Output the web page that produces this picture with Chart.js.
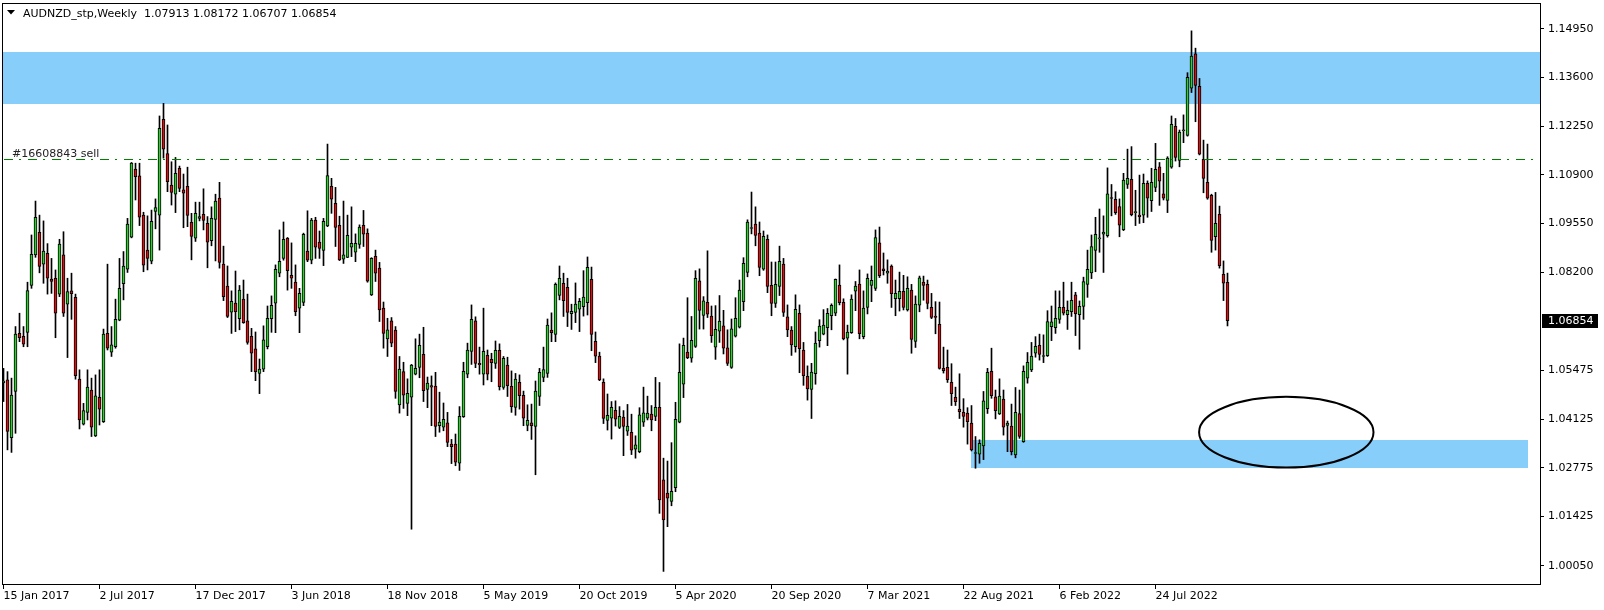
<!DOCTYPE html>
<html><head><meta charset="utf-8">
<script src="https://cdn.jsdelivr.net/npm/chart.js@4.4.1/dist/chart.umd.min.js"></script>
<style>html,body{margin:0;padding:0;background:#fff;overflow:hidden}canvas{display:block}</style>
</head><body>
<canvas id="c" width="1604" height="610"></canvas>
<script>
// ---- weekly candles (bar index 0 = week of 15 Jan 2017) ----
const opens = [1.0513,1.0521,1.0361,1.0489,1.0650,1.0642,1.0653,1.0783,1.0868,1.0930,1.0842,1.0872,1.0801,1.0803,1.0759,1.0868,1.0731,1.0768,1.0750,1.0523,
1.0398,1.0431,1.0493,1.0366,1.0473,1.0405,1.0650,1.0598,1.0613,1.0687,1.0788,1.0828,1.0917,1.1106,1.1087,1.0978,1.0881,1.0850,1.0988,1.0978,
1.1244,1.1149,1.1061,1.1036,1.1108,1.1048,1.1058,1.0958,1.0914,1.0969,1.0980,1.0955,1.0907,1.0966,1.1025,1.0842,1.0781,1.0709,1.0734,1.0691,
1.0745,1.0685,1.0642,1.0607,1.0539,1.0551,1.0613,1.0691,1.0734,1.0817,1.0858,1.0914,1.0811,1.0792,1.0720,1.0736,1.0878,1.0853,1.0964,1.0903,
1.0880,1.0948,1.1058,1.1011,1.0950,1.0856,1.0861,1.0889,1.0875,1.0897,1.0950,1.0928,1.0757,1.0864,1.0831,1.0720,1.0635,1.0685,1.0659,1.0452,
1.0544,1.0456,1.0473,1.0537,1.0556,1.0592,1.0495,1.0505,1.0504,1.0394,1.0390,1.0402,1.0343,1.0343,1.0290,1.0419,1.0537,1.0600,1.0685,1.0567,
1.0537,1.0589,1.0578,1.0567,1.0603,1.0500,1.0562,1.0503,1.0445,1.0514,1.0478,1.0395,1.0402,1.0392,1.0475,1.0528,1.0539,1.0659,1.0647,1.0755,
1.0789,1.0778,1.0705,1.0708,1.0717,1.0724,1.0735,1.0800,1.0628,1.0587,1.0514,1.0409,1.0415,1.0437,1.0389,1.0418,1.0379,1.0376,1.0329,1.0322,
1.0404,1.0415,1.0426,1.0420,1.0445,1.0244,1.0207,1.0184,1.0222,1.0404,1.0509,1.0598,1.0581,1.0614,1.0796,1.0700,1.0736,1.0698,1.0612,1.0656,
1.0671,1.0610,1.0556,1.0642,1.0667,1.0738,1.0819,1.0941,1.0953,1.0928,1.0828,1.0911,1.0783,1.0733,1.0780,1.0842,1.0696,1.0659,1.0613,1.0706,
1.0604,1.0531,1.0495,1.0538,1.0630,1.0648,1.0666,1.0699,1.0706,1.0784,1.0736,1.0637,1.0652,1.0767,1.0787,1.0641,1.0722,1.0783,1.0775,1.0901,
1.0829,1.0817,1.0837,1.0746,1.0746,1.0767,1.0715,1.0770,1.0628,1.0728,1.0792,1.0786,1.0722,1.0698,1.0675,1.0553,1.0556,1.0514,1.0473,1.0440,
1.0431,1.0429,1.0401,1.0317,1.0315,1.0338,1.0441,1.0545,1.0474,1.0427,1.0468,1.0395,1.0393,1.0313,1.0428,1.0350,1.0526,1.0549,1.0595,1.0617,
1.0586,1.0588,1.0669,1.0666,1.0689,1.0722,1.0702,1.0710,1.0757,1.0702,1.0725,1.0786,1.0818,1.0880,1.0912,1.0925,1.0921,1.1027,1.1022,1.1002,
1.0938,1.1063,1.1077,1.0985,1.0978,1.0978,1.1066,1.1018,1.1055,1.1112,1.1037,1.1019,1.1111,1.1224,1.1130,1.1212,1.1199,1.1330,1.1425,1.1335,
1.1133,1.1069,1.1033,1.0918,1.0980,1.0814,1.07913];
const highs = [1.0553,1.0544,1.0526,1.0669,1.0706,1.0669,1.0792,1.0923,1.1017,1.0978,1.0962,1.0899,1.0858,1.0826,1.0911,1.0932,1.0803,1.0817,1.0759,1.0549,
1.0456,1.0549,1.0526,1.0535,1.0549,1.0662,1.0842,1.0669,1.0745,1.0858,1.0877,1.0969,1.1124,1.1122,1.1122,1.0986,1.0976,1.0992,1.1023,1.1253,
1.1288,1.1228,1.1126,1.1138,1.1114,1.1092,1.1111,1.0983,1.1014,1.1014,1.1051,1.0974,1.1001,1.1036,1.1069,1.0892,1.0837,1.0768,1.0823,1.0783,
1.0798,1.0759,1.0664,1.0654,1.0579,1.0671,1.0726,1.0754,1.0840,1.0937,1.0959,1.0916,1.0901,1.0840,1.0775,1.0928,1.0990,1.0969,1.0972,1.0934,
1.0969,1.1175,1.1080,1.1055,1.0975,1.1017,1.0978,1.1001,1.0926,1.0951,1.0991,1.0940,1.0860,1.0881,1.0847,1.0737,1.0692,1.0694,1.0669,1.0586,
1.0570,1.0524,1.0564,1.0635,1.0648,1.0667,1.0529,1.0532,1.0542,1.0487,1.0457,1.0431,1.0356,1.0371,1.0447,1.0570,1.0623,1.0729,1.0696,1.0612,
1.0720,1.0604,1.0595,1.0629,1.0621,1.0586,1.0584,1.0546,1.0539,1.0535,1.0490,1.0452,1.0454,1.0518,1.0553,1.0612,1.0690,1.0707,1.0790,1.0837,
1.0817,1.0803,1.0731,1.0790,1.0747,1.0824,1.0862,1.0834,1.0654,1.0598,1.0524,1.0482,1.0461,1.0463,1.0447,1.0436,1.0453,1.0426,1.0366,1.0444,
1.0501,1.0476,1.0450,1.0528,1.0514,1.0304,1.0296,1.0347,1.0459,1.0621,1.0637,1.0749,1.0697,1.0824,1.0829,1.0752,1.0879,1.0726,1.0727,1.0755,
1.0714,1.0660,1.0690,1.0749,1.0798,1.0860,1.0965,1.1042,1.1001,1.0959,1.0934,1.0923,1.0848,1.0848,1.0892,1.0858,1.0729,1.0669,1.0757,1.0729,
1.0625,1.0560,1.0567,1.0654,1.0688,1.0716,1.0719,1.0732,1.0801,1.0840,1.0746,1.0673,1.0757,1.0794,1.0826,1.0768,1.0815,1.0837,1.0937,1.0945,
1.0873,1.0854,1.0840,1.0798,1.0820,1.0811,1.0807,1.0786,1.0754,1.0809,1.0809,1.0798,1.0761,1.0738,1.0737,1.0612,1.0604,1.0566,1.0501,1.0538,
1.0469,1.0444,1.0450,1.0364,1.0355,1.0489,1.0553,1.0609,1.0493,1.0524,1.0493,1.0407,1.0454,1.0500,1.0493,1.0560,1.0597,1.0625,1.0641,1.0648,
1.0646,1.0713,1.0726,1.0768,1.0768,1.0792,1.0740,1.0792,1.0764,1.0740,1.0806,1.0881,1.0923,1.0972,1.0995,1.0976,1.1109,1.1063,1.1043,1.1023,
1.1094,1.1161,1.1168,1.1047,1.1089,1.1092,1.1073,1.1108,1.1177,1.1124,1.1094,1.1140,1.1253,1.1246,1.1214,1.1256,1.1373,1.1489,1.1441,1.1357,
1.1186,1.1175,1.1036,1.1041,1.1003,1.0851,1.08172];
const lows = [1.0461,1.0327,1.0320,1.0373,1.0627,1.0613,1.0613,1.0775,1.0861,1.0818,1.0789,1.0759,1.0761,1.0638,1.0752,1.0697,1.0583,1.0689,1.0523,1.0385,
1.0396,1.0410,1.0364,1.0364,1.0396,1.0403,1.0604,1.0586,1.0609,1.0685,1.0743,1.0819,1.0915,1.1020,1.0949,1.0821,1.0826,1.0843,1.0940,1.0881,
1.1136,1.1043,1.1006,1.0985,1.1043,1.0943,1.0946,1.0854,1.0905,1.0962,1.0937,1.0832,1.0893,1.0851,1.0831,1.0741,1.0694,1.0650,1.0655,1.0660,
1.0678,1.0620,1.0544,1.0519,1.0483,1.0544,1.0607,1.0653,1.0652,1.0807,1.0853,1.0770,1.0775,1.0699,1.0652,1.0727,1.0849,1.0843,1.0858,1.0858,
1.0838,1.0946,1.0983,1.0891,1.0852,1.0844,1.0860,1.0863,1.0849,1.0886,1.0891,1.0792,1.0755,1.0794,1.0683,1.0609,1.0586,1.0613,1.0470,1.0429,
1.0442,1.0422,1.0107,1.0535,1.0527,1.0461,1.0444,1.0394,1.0364,1.0376,1.0380,1.0336,1.0289,1.0283,1.0270,1.0417,1.0527,1.0564,1.0555,1.0537,
1.0507,1.0521,1.0516,1.0553,1.0493,1.0495,1.0475,1.0431,1.0423,1.0440,1.0394,1.0380,1.0356,1.0258,1.0450,1.0516,1.0528,1.0627,1.0627,1.0743,
1.0697,1.0669,1.0661,1.0680,1.0655,1.0698,1.0701,1.0602,1.0569,1.0519,1.0400,1.0382,1.0357,1.0393,1.0386,1.0311,1.0367,1.0314,1.0304,1.0319,
1.0392,1.0410,1.0380,1.0408,1.0151,0.9990,1.0114,1.0172,1.0211,1.0402,1.0472,1.0580,1.0570,1.0611,1.0662,1.0662,1.0694,1.0625,1.0578,1.0625,
1.0593,1.0561,1.0553,1.0640,1.0665,1.0713,1.0807,1.0926,1.0893,1.0810,1.0825,1.0763,1.0699,1.0722,1.0755,1.0697,1.0641,1.0589,1.0598,1.0541,
1.0506,1.0465,1.0414,1.0509,1.0612,1.0646,1.0616,1.0660,1.0699,1.0729,1.0632,1.0537,1.0650,1.0713,1.0635,1.0635,1.0704,1.0738,1.0769,1.0805,
1.0812,1.0789,1.0722,1.0699,1.0712,1.0715,1.0712,1.0595,1.0611,1.0710,1.0742,1.0718,1.0691,1.0649,1.0551,1.0540,1.0514,1.0450,1.0450,1.0414,
1.0390,1.0343,1.0324,1.0276,1.0290,1.0300,1.0428,1.0470,1.0413,1.0425,1.0368,1.0322,1.0313,1.0305,1.0359,1.0348,1.0512,1.0544,1.0584,1.0576,
1.0569,1.0586,1.0630,1.0650,1.0678,1.0701,1.0661,1.0697,1.0644,1.0606,1.0689,1.0750,1.0802,1.0821,1.0875,1.0819,1.0917,1.0976,1.0980,1.0918,
1.0935,1.1052,1.0976,1.0949,1.0955,1.0957,1.0972,1.0988,1.1043,1.1005,1.1020,1.0985,1.1108,1.1128,1.1112,1.1179,1.1197,1.1318,1.1237,1.1145,
1.1040,1.1022,1.0875,1.0881,1.0831,1.0741,1.06707];
const closes = [1.0518,1.0378,1.0479,1.0648,1.0638,1.0620,1.0769,1.0869,1.0972,1.0836,1.0878,1.0803,1.0794,1.0706,1.0898,1.0706,1.0766,1.0760,1.0533,1.0410,
1.0436,1.0501,1.0390,1.0477,1.0440,1.0648,1.0609,1.0618,1.0689,1.0775,1.0837,1.0953,1.1122,1.1085,1.0972,1.0839,1.0858,1.0961,1.0999,1.1219,
1.1161,1.1071,1.1041,1.1094,1.1052,1.1039,1.0977,1.0919,1.0983,1.0974,1.0963,1.0903,1.0969,1.1017,1.0847,1.0752,1.0697,1.0739,1.0710,1.0770,
1.0680,1.0625,1.0595,1.0544,1.0551,1.0632,1.0692,1.0728,1.0828,1.0850,1.0911,1.0824,1.0803,1.0710,1.0761,1.0925,1.0853,1.0964,1.0889,1.0886,
1.0961,1.1088,1.1022,1.0944,1.0854,1.0868,1.0922,1.0900,1.0900,1.0945,1.0925,1.0795,1.0858,1.0817,1.0715,1.0650,1.0660,1.0623,1.0489,1.0551,
1.0479,1.0484,1.0562,1.0553,1.0617,1.0491,1.0512,1.0501,1.0392,1.0404,1.0412,1.0348,1.0336,1.0293,1.0420,1.0545,1.0604,1.0689,1.0567,1.0563,
1.0600,1.0537,1.0569,1.0603,1.0502,1.0581,1.0505,1.0447,1.0523,1.0477,1.0415,1.0409,1.0394,1.0490,1.0542,1.0550,1.0673,1.0652,1.0786,1.0803,
1.0741,1.0708,1.0711,1.0731,1.0739,1.0751,1.0833,1.0647,1.0587,1.0521,1.0414,1.0423,1.0445,1.0412,1.0420,1.0392,1.0393,1.0326,1.0341,1.0424,
1.0430,1.0429,1.0410,1.0445,1.0188,1.0133,1.0193,1.0212,1.0412,1.0542,1.0617,1.0583,1.0631,1.0803,1.0714,1.0740,1.0703,1.0644,1.0661,1.0684,
1.0609,1.0567,1.0663,1.0692,1.0770,1.0844,1.0959,1.0942,1.0922,1.0833,1.0919,1.0780,1.0733,1.0786,1.0850,1.0708,1.0660,1.0618,1.0717,1.0608,
1.0533,1.0496,1.0543,1.0623,1.0670,1.0673,1.0706,1.0728,1.0800,1.0735,1.0635,1.0654,1.0745,1.0781,1.0649,1.0720,1.0803,1.0797,1.0916,1.0810,
1.0824,1.0823,1.0760,1.0761,1.0767,1.0722,1.0775,1.0633,1.0731,1.0804,1.0783,1.0733,1.0694,1.0694,1.0553,1.0547,1.0522,1.0483,1.0461,1.0433,
1.0420,1.0405,1.0327,1.0319,1.0345,1.0463,1.0542,1.0477,1.0436,1.0476,1.0390,1.0401,1.0322,1.0431,1.0364,1.0545,1.0570,1.0587,1.0614,1.0592,
1.0587,1.0683,1.0682,1.0692,1.0722,1.0706,1.0714,1.0742,1.0705,1.0725,1.0794,1.0828,1.0891,1.0925,1.0914,1.0931,1.1037,1.1024,1.0985,1.0950,
1.1075,1.1080,1.0979,1.0986,1.0974,1.1066,1.1025,1.1069,1.1105,1.1072,1.1025,1.1136,1.1230,1.1138,1.1208,1.1214,1.1360,1.1419,1.1338,1.1147,
1.1080,1.1025,1.0908,1.0955,1.0838,1.0789,1.06854];

// ---- axes ----
const xTickBars   = [0, 24, 48, 72, 96, 120, 144, 168, 192, 216, 240, 264, 288];
const xTickLabels = ['15 Jan 2017','2 Jul 2017','17 Dec 2017','3 Jun 2018','18 Nov 2018','5 May 2019','20 Oct 2019',
                     '5 Apr 2020','20 Sep 2020','7 Mar 2021','22 Aug 2021','6 Feb 2022','24 Jul 2022'];
const yTickValues = [1.14950, 1.13600, 1.12250, 1.10900, 1.09550, 1.08200, 1.05475, 1.04125, 1.02775, 1.01425, 1.00050];

// ---- drawn objects (in chart units) ----
const titleText = 'AUDNZD_stp,Weekly  1.07913 1.08172 1.06707 1.06854';
const lastPrice = 1.06854;
const sellLevel = 1.1134;
const sellLabel = '#16608843 sell';
const zoneTop    = [1.1430, 1.1286];                 // full width
const zoneBottom = [241.9, 381.1, 1.0355, 1.0276];   // x0, x1, high, low
const ellipseBox = [298.9, 342.5, 1.0474, 1.0278];   // x0, x1, high, low

const GREEN = '#32CD32', RED = '#D21414', ZONE = '#87CEFA', LINEGREEN = '#008000';
const FONT = '11px "DejaVu Sans"';

const bodyData = opens.map((o, i) => ({ x: i, y: [o, closes[i]] }));
const wickData = opens.map((o, i) => ({ x: i, y: [lows[i], highs[i]] }));

const overlay = {
  id: 'overlay',
  beforeDatasetsDraw(chart) {
    const { ctx, chartArea: a, scales: { x, y } } = chart;
    ctx.save();
    ctx.fillStyle = ZONE;
    let t = Math.round(y.getPixelForValue(zoneTop[0])), b = Math.round(y.getPixelForValue(zoneTop[1]));
    ctx.fillRect(a.left, t, a.right - a.left, b - t);
    const x0 = Math.round(x.getPixelForValue(zoneBottom[0])), x1 = Math.round(x.getPixelForValue(zoneBottom[1]));
    t = Math.round(y.getPixelForValue(zoneBottom[2])); b = Math.round(y.getPixelForValue(zoneBottom[3]));
    ctx.fillRect(x0, t, x1 - x0, b - t);
    ctx.restore();
  },
  afterDatasetsDraw(chart) {
    const { ctx, chartArea: a, scales: { x, y } } = chart;
    ctx.save();
    // sell level
    const sy = Math.round(y.getPixelForValue(sellLevel)) + 0.5;
    ctx.strokeStyle = LINEGREEN; ctx.lineWidth = 1; ctx.setLineDash([9, 6, 2, 7]);
    ctx.beginPath(); ctx.moveTo(a.left + 2, sy); ctx.lineTo(a.right, sy); ctx.stroke();
    ctx.setLineDash([]);
    ctx.font = FONT; ctx.fillStyle = '#222'; ctx.textBaseline = 'alphabetic'; ctx.textAlign = 'left';
    ctx.fillText(sellLabel, 12, sy - 3);
    // ellipse
    const ex0 = x.getPixelForValue(ellipseBox[0]), ex1 = x.getPixelForValue(ellipseBox[1]);
    const ey0 = y.getPixelForValue(ellipseBox[2]), ey1 = y.getPixelForValue(ellipseBox[3]);
    ctx.strokeStyle = '#000'; ctx.lineWidth = 2;
    ctx.beginPath(); ctx.ellipse((ex0 + ex1) / 2, (ey0 + ey1) / 2, (ex1 - ex0) / 2, (ey1 - ey0) / 2, 0, 0, Math.PI * 2); ctx.stroke();
    // frame
    ctx.lineWidth = 1; ctx.strokeStyle = '#000';
    ctx.strokeRect(a.left + 0.5, a.top + 0.5, a.right - a.left - 1, a.bottom - a.top - 1);
    // title
    ctx.fillStyle = '#000';
    ctx.beginPath(); ctx.moveTo(7, 10); ctx.lineTo(15, 10); ctx.lineTo(11, 14.5); ctx.closePath(); ctx.fill();
    ctx.font = FONT; ctx.fillText(titleText, 23, 17);
    // last price label
    const py = Math.round(y.getPixelForValue(lastPrice));
    ctx.fillStyle = '#000'; ctx.fillRect(a.right + 1, py - 7, 56, 14);
    ctx.fillStyle = '#fff'; ctx.textBaseline = 'middle';
    ctx.fillText(lastPrice.toFixed(5), a.right + 7, py + 0.5);
    ctx.restore();
  }
};

Chart.defaults.font.family = '"DejaVu Sans"';
Chart.defaults.font.size = 11;
Chart.defaults.color = '#000';

new Chart(document.getElementById('c'), {
  type: 'bar',
  data: {
    datasets: [
      { label: 'body', data: bodyData, grouped: false, barThickness: 3, borderWidth: 1, borderColor: '#000',
        borderSkipped: false, minBarLength: 1,
        backgroundColor: c => (closes[c.dataIndex] >= opens[c.dataIndex] ? GREEN : RED) },
      { label: 'wick', data: wickData, grouped: false, barThickness: 1, borderWidth: 0, backgroundColor: '#000' }
    ]
  },
  options: {
    responsive: false, animation: false, devicePixelRatio: 1,
    layout: { padding: { left: 2, top: 3, right: 0, bottom: 0 } },
    plugins: { legend: { display: false }, tooltip: { enabled: false } },
    scales: {
      x: {
        type: 'linear', min: -0.375, max: 384.375, offset: false, position: 'bottom',
        grid: { offset: false, drawOnChartArea: false, drawTicks: true, tickLength: 4, color: '#000' },
        border: { display: false },
        ticks: { autoSkip: false, maxRotation: 0, minRotation: 0, align: 'start', padding: 1, color: '#000',
                 callback: v => xTickLabels[xTickBars.indexOf(v)] },
        afterBuildTicks: s => { s.ticks = xTickBars.map(v => ({ value: v })); },
        afterFit: s => { s.height = 25; s.paddingLeft = 0; s.paddingRight = 0; }
      },
      y: {
        type: 'linear', position: 'right', min: 0.995229, max: 1.156627,
        grid: { drawOnChartArea: false, drawTicks: true, tickLength: 3, color: '#000' },
        border: { display: false },
        ticks: { padding: 4, color: '#000', callback: v => Number(v).toFixed(5) },
        afterBuildTicks: s => { s.ticks = yTickValues.map(v => ({ value: v })); },
        afterFit: s => { s.width = 63; s.paddingTop = 0; s.paddingBottom = 0; }
      }
    }
  },
  plugins: [overlay]
});
</script>
</body></html>
